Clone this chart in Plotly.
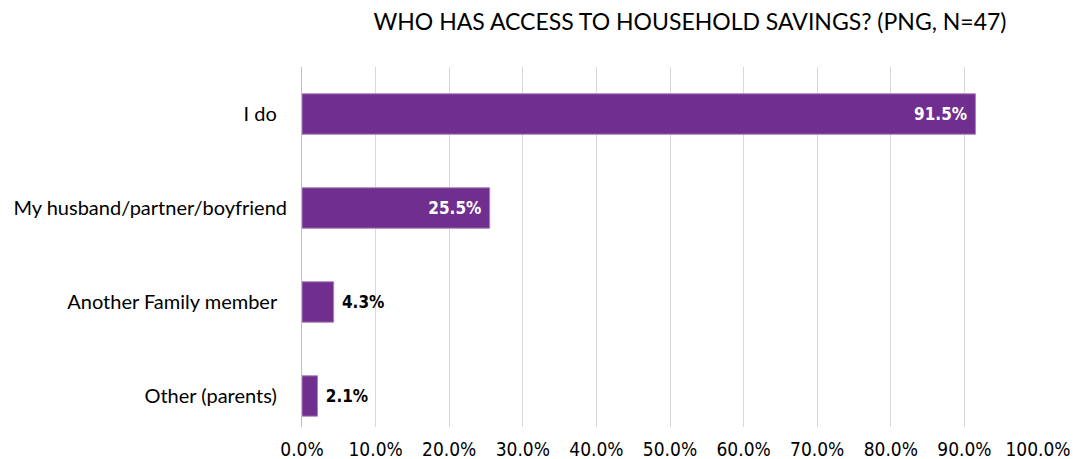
import plotly.graph_objects as go

# Survey responses: who has access to household savings
categories = ["I do\u00a0\u00a0", "My husband/partner/boyfriend", "Another Family member\u00a0\u00a0", "Other (parents)\u00a0\u00a0"]
shares = [91.5, 25.5, 4.3, 2.1]
tick_values = [0, 10, 20, 30, 40, 50, 60, 70, 80, 90, 100]
tick_labels = ["0.0%", "10.0%", "20.0%", "30.0%", "40.0%", "50.0%", "60.0%", "70.0%", "80.0%", "90.0%", "100.0%"]
title_text = "WHO HAS ACCESS TO HOUSEHOLD SAVINGS? (PNG, N=47)"

label_pos = ["inside", "inside", "outside", "outside"]
label_color = ["white", "white", "black", "black"]
# a little breathing room between the value label and the bar end
label_text = [
    f"{v:.1f}%\u00a0" if p == "inside" else f"\u00a0{v:.1f}%"
    for v, p in zip(shares, label_pos)
]

narrow = "DejaVu Sans Condensed, Roboto, sans-serif"

fig = go.Figure(
    go.Bar(
        x=shares,
        y=categories,
        orientation="h",
        width=0.43,
        marker=dict(color="#702E8E", line=dict(color="#A684BC", width=1)),
        text=label_text,
        textposition=label_pos,
        insidetextanchor="end",
        textfont=dict(color=label_color, size=17, family=narrow, weight="bold"),
        cliponaxis=False,
    )
)

fig.update_layout(
    width=1075,
    height=459,
    margin=dict(l=302, r=37, t=67, b=32, autoexpand=False),
    paper_bgcolor="white",
    plot_bgcolor="white",
    showlegend=False,
    title=dict(
        text=title_text,
        x=690 / 1075,
        xanchor="center",
        y=1 - 22 / 459,
        yanchor="middle",
        font=dict(family="Lato, sans-serif", size=23, color="black"),
    ),
)

fig.update_xaxes(
    range=[0, 100],
    tickvals=tick_values,
    ticktext=tick_labels,
    showgrid=True,
    gridcolor="#D9D9D9",
    gridwidth=1,
    zeroline=False,
    ticks="",
    ticklabelstandoff=9,
    automargin=False,
    tickfont=dict(family=narrow, size=19, color="black"),
)

fig.update_yaxes(
    categoryorder="array",
    categoryarray=categories,
    range=[3.33, -0.5],
    showgrid=False,
    showline=True,
    linecolor="#BFBFBF",
    linewidth=1,
    ticks="",
    ticklabelstandoff=10,
    automargin=False,
    tickfont=dict(family="Lato, sans-serif", size=20, color="black"),
)

fig.write_html("out.html")
